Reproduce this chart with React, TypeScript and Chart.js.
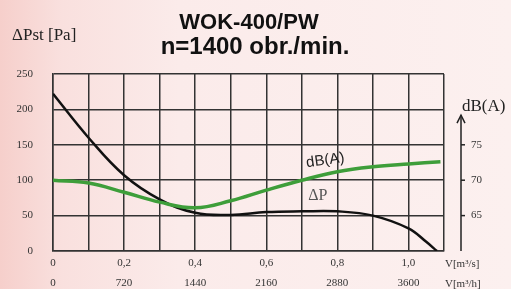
import { useEffect, useRef } from 'react';
import { Chart, registerables } from 'chart.js';

Chart.register(...registerables);

// Pressure curve ΔPst [Pa] vs flow V [m³/s]
const pressureFlow = [0, 0.1, 0.2, 0.3, 0.4, 0.5, 0.6, 0.7, 0.8, 0.9, 1.0, 1.05, 1.08];
const pressurePa = [222, 160, 107, 73, 54, 51, 55, 56, 56, 50, 32, 13, 0];

// Noise curve dB(A) vs flow V [m³/s]
const noiseFlow = [0, 0.1, 0.2, 0.3, 0.4, 0.5, 0.6, 0.7, 0.8, 0.9, 1.0, 1.09];
const noiseDb = [70, 69.6, 68.3, 66.9, 66.1, 67.1, 68.6, 70, 71.2, 71.9, 72.3, 72.6];

// Tick labels
const flowLabelsS = ['0', '0,2', '0,4', '0,6', '0,8', '1,0'];
const flowLabelsH = ['0', '720', '1440', '2160', '2880', '3600'];
const dbTicks = [65, 70, 75];
const titleLines = ['WOK-400/PW', 'n=1400 obr./min.'];

const SERIF = '"Liberation Serif", "Times New Roman", serif';
const SANS = '"Liberation Sans", Arial, sans-serif';

const overlay = {
  id: 'overlay',
  afterDraw(chart: any) {
    const ctx = chart.ctx as CanvasRenderingContext2D;
    const area = chart.chartArea;
    const xs = chart.scales.x;
    const ys = chart.scales.y;
    const y1 = chart.scales.y1;
    ctx.save();

    // Title
    ctx.fillStyle = '#111';
    ctx.textAlign = 'center';
    ctx.textBaseline = 'alphabetic';
    ctx.font = `bold 22px ${SANS}`;
    ctx.fillText(titleLines[0], 249, 29);
    ctx.font = `bold 24px ${SANS}`;
    ctx.fillText(titleLines[1], 255, 54);

    // Left axis title
    ctx.textAlign = 'left';
    ctx.fillStyle = '#222';
    ctx.font = `17px ${SERIF}`;
    ctx.fillText('\u0394Pst [Pa]', 12, 40);

    // Right dB(A) axis
    const axX = area.right + 17;
    const yb = y1.getPixelForValue(60);
    const yt = y1.getPixelForValue(79.2);
    ctx.strokeStyle = '#222';
    ctx.lineWidth = 1.5;
    ctx.beginPath();
    ctx.moveTo(axX, yb);
    ctx.lineTo(axX, yt);
    ctx.stroke();
    ctx.beginPath();
    ctx.moveTo(axX - 4, yt + 8);
    ctx.lineTo(axX, yt);
    ctx.lineTo(axX + 4, yt + 8);
    ctx.stroke();
    ctx.font = `11px ${SERIF}`;
    ctx.fillStyle = '#333';
    ctx.textBaseline = 'middle';
    for (const v of dbTicks) {
      const py = y1.getPixelForValue(v);
      ctx.beginPath();
      ctx.moveTo(axX, py);
      ctx.lineTo(axX + 4, py);
      ctx.stroke();
      ctx.fillText(String(v), axX + 10, py);
    }
    ctx.font = `17px ${SERIF}`;
    ctx.fillStyle = '#222';
    ctx.textBaseline = 'alphabetic';
    ctx.fillText('dB(A)', axX + 1, yt - 4);

    // Unit labels on x axis
    ctx.font = `11px ${SERIF}`;
    ctx.fillStyle = '#333';
    ctx.textBaseline = 'middle';
    ctx.fillText('V[m\u00b3/s]', area.right + 1, area.bottom + 13);
    ctx.fillText('V[m\u00b3/h]', area.right + 1, area.bottom + 33);

    // Curve labels
    ctx.save();
    ctx.translate(xs.getPixelForValue(0.766), ys.getPixelForValue(128));
    ctx.rotate(-8 * Math.PI / 180);
    ctx.font = `15px ${SANS}`;
    ctx.fillStyle = '#222';
    ctx.textAlign = 'center';
    ctx.fillText('dB(A)', 0, 0);
    ctx.restore();

    ctx.font = `16px ${SERIF}`;
    ctx.fillStyle = '#555';
    ctx.textAlign = 'center';
    ctx.fillText('\u0394P', xs.getPixelForValue(0.745), ys.getPixelForValue(78));

    ctx.restore();
  },
};

export default function App() {
  const ref = useRef<HTMLCanvasElement>(null);
  useEffect(() => {
    if (!ref.current) return;
    const chart = new Chart(ref.current, {
      type: 'line',
      data: {
        datasets: [
          {
            label: 'dB(A)',
            data: noiseFlow.map((f, i) => ({ x: f, y: noiseDb[i] })),
            yAxisID: 'y1',
            borderColor: '#3e9e3a',
            borderWidth: 3.5,
            pointRadius: 0,
            tension: 0.4,
            fill: false,
          },
          {
            label: 'ΔP',
            data: pressureFlow.map((f, i) => ({ x: f, y: pressurePa[i] })),
            yAxisID: 'y',
            borderColor: '#111',
            borderWidth: 2.5,
            pointRadius: 0,
            tension: 0.4,
            fill: false,
          },
        ],
      },
      options: {
        responsive: false,
        animation: false,
        devicePixelRatio: 1,
        layout: { padding: { top: 74, right: 67, left: 0, bottom: 0 } },
        plugins: { legend: { display: false }, tooltip: { enabled: false }, title: { display: false } },
        scales: {
          x: {
            type: 'linear',
            min: 0,
            max: 1.1,
            afterFit: (s: any) => { s.height = 38; },
            grid: { color: '#333', lineWidth: 1.5, drawTicks: false },
            border: { color: '#333', width: 1.5 },
            ticks: {
              stepSize: 0.1,
              autoSkip: false,
              maxRotation: 0,
              padding: 2,
              color: '#333',
              font: { family: SERIF, size: 11, lineHeight: '20px' },
              callback: (_v: any, index: number) =>
                index % 2 === 0 && flowLabelsS[index / 2] !== undefined
                  ? [flowLabelsS[index / 2], flowLabelsH[index / 2]]
                  : '',
            },
          },
          y: {
            min: 0,
            max: 250,
            afterFit: (s: any) => { s.width = 53; },
            grid: { color: '#333', lineWidth: 1.5, drawTicks: false },
            border: { color: '#333', width: 1.5 },
            ticks: {
              stepSize: 50,
              padding: 20,
              color: '#333',
              font: { family: SERIF, size: 11 },
            },
          },
          y1: {
            min: 60,
            max: 85,
            display: false,
            position: 'right',
          },
        },
      },
      plugins: [overlay],
    } as any);
    return () => chart.destroy();
  }, []);

  return (
    <div
      style={{
        position: 'fixed',
        left: 0,
        top: 0,
        width: 511,
        height: 289,
        background: 'linear-gradient(90deg, #f6cfcb 0%, #f9e0de 12%, #fbebea 35%, #fcf0ef 100%)',
      }}
    >
      <canvas ref={ref} width={511} height={289} style={{ display: 'block', width: 511, height: 289 }} />
    </div>
  );
}
